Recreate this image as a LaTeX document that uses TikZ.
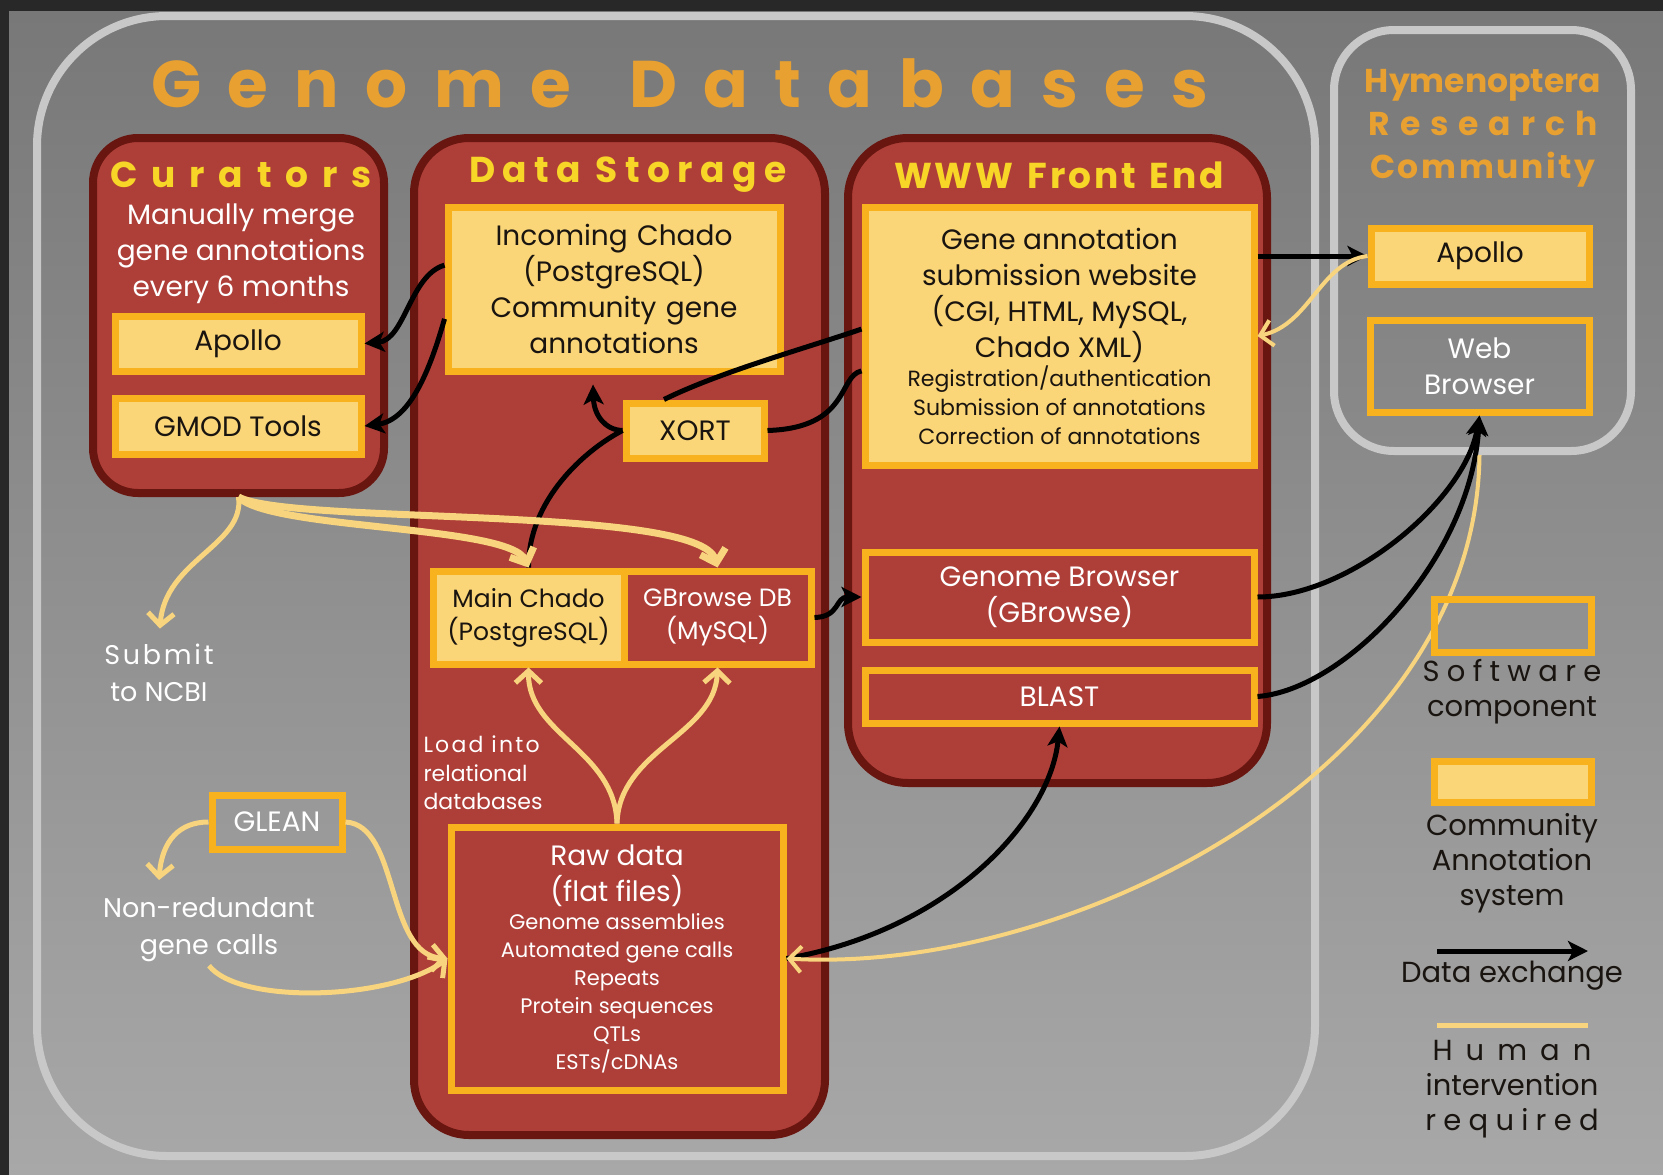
\documentclass[tikz,border=0pt]{standalone}
\usepackage{fontspec}
\setmainfont{Poppins}
\usetikzlibrary{arrows.meta,positioning,calc}
\definecolor{framedark}{RGB}{40,40,40}
\definecolor{bgtop}{RGB}{120,120,120}
\definecolor{bgbot}{RGB}{168,168,168}
\definecolor{rimgray}{RGB}{200,200,200}
\definecolor{panelred}{RGB}{174,62,56}
\definecolor{paneledge}{RGB}{105,22,16}
\definecolor{amber}{RGB}{247,178,30}
\definecolor{cream}{RGB}{250,214,120}
\definecolor{titleorange}{RGB}{232,160,48}
\definecolor{headyellow}{RGB}{248,214,40}
\definecolor{humanyellow}{RGB}{247,212,125}
\definecolor{ink}{RGB}{25,20,15}
\newcommand\natspace{\spaceskip=\fontdimen2\font\relax}
\tikzset{
  rim/.style={draw=rimgray, line width=8pt},
  panel/.style={draw=paneledge, fill=panelred, line width=8pt},
  combox/.style={draw=amber, fill=cream, line width=7pt, align=center, text=ink, inner sep=0pt},
  softbox/.style={draw=amber, fill=panelred, line width=7pt, align=center, text=white, inner sep=0pt},
  openbox/.style={draw=amber, line width=7pt, align=center, text=white, inner sep=0pt},
  heading/.style={text=headyellow, font=\fontsize{36}{40}\selectfont\bfseries},
  bodytxt/.style={font=\fontsize{28}{36}\selectfont},
  legtxt/.style={text=ink, align=center, font=\fontsize{29}{35}\selectfont},
  graytxt/.style={text=white, align=center, font=\fontsize{27}{37}\selectfont},
  dataflow/.style={-{Stealth[length=20pt,width=20pt,inset=5pt]}, line width=5pt, draw=black},
  humanflow/.style={-{Straight Barb[length=12pt,width=26pt]}, line width=5pt, draw=humanyellow}
}

\begin{document}
\begin{tikzpicture}[x=1pt,y=-1pt]
% ---- background ----
\fill[framedark] (0,0) rectangle (1663,1175);
\shade[top color=bgtop, bottom color=bgbot] (9,11) rectangle (1663,1175);
\useasboundingbox (0,0) rectangle (1663,1175);

% ---- outlines and panels ----
\node[rim, rounded corners=130pt, minimum width=1278pt, minimum height=1140pt] (gdb) at (676,586) {};
\node[rim, rounded corners=60pt, minimum width=297pt, minimum height=421pt] (hrc) at (1482.5,240.5) {};
\node[panel, rounded corners=45pt, minimum width=291pt, minimum height=355pt] (cur) at (238.5,315.5) {};
\node[panel, rounded corners=55pt, minimum width=411pt, minimum height=997pt] (store) at (619.5,636.5) {};
\node[panel, rounded corners=60pt, minimum width=419pt, minimum height=645pt] (www) at (1057.5,460.5) {};

% ---- headings ----
\node[text=titleorange, font=\fontsize{66}{70}\selectfont\bfseries] (title) at (680,83) {\addfontfeatures{LetterSpace=40}Genome\hspace{58pt}Databases};
\node[heading] (curhead) at (241,175) {\addfontfeatures{LetterSpace=38}Curators};
\node[heading] (storehead) at (628,175) {\addfontfeatures{LetterSpace=21}Data\hspace{14pt}Storage};
\node[heading] (wwwhead) at (1059,175) {\addfontfeatures{LetterSpace=8}WWW\hspace{14pt}Front\hspace{14pt}End};
\node[text=titleorange, align=center, font=\fontsize{33}{43}\selectfont\bfseries] (hym) at (1483,128) {Hymenoptera\\{\addfontfeatures{LetterSpace=30}Research}\\{\addfontfeatures{LetterSpace=8}Community}};
\node[text=white, align=center, bodytxt] (curtxt) at (241,254) {Manually merge\\gene annotations\\every 6 months};

% ---- components ----
\node[combox, minimum width=332pt, minimum height=164pt, text width=320pt, bodytxt] (incoming) at (614,289) {Incoming Chado\\(PostgreSQL)\\Community gene\\annotations};
\node[combox, minimum width=246pt, minimum height=55pt, bodytxt] (capollo) at (238,343.5) {Apollo};
\node[combox, minimum width=246pt, minimum height=56pt, bodytxt] (gmod) at (238,426) {GMOD Tools};
\node[combox, minimum width=138pt, minimum height=55pt, bodytxt] (xort) at (695,430.5) {XORT};
\node[combox, minimum width=389pt, minimum height=258pt, text width=380pt] (geneann) at (1059.5,336) {{\fontsize{28}{36}\selectfont\natspace Gene annotation\\submission website\\(CGI, HTML, MySQL,\\Chado XML)\par}{\fontsize{22}{29}\selectfont\natspace Registration/authentication\\Submission of annotations\\Correction of annotations\par}};
\node[combox, minimum width=191pt, minimum height=93pt, font=\fontsize{25}{33}\selectfont] (mainchado) at (528.5,617.5) {Main Chado\\(PostgreSQL)};
\node[softbox, minimum width=187pt, minimum height=93pt, font=\fontsize{25}{33}\selectfont] (gbrowsedb) at (717.5,617.5) {GBrowse DB\\(MySQL)};
\node[softbox, minimum width=389pt, minimum height=90pt, bodytxt] (gbrowse) at (1059.5,597) {Genome Browser\\(GBrowse)};
\node[softbox, minimum width=389pt, minimum height=53pt, bodytxt] (blast) at (1059.5,696.5) {BLAST};
\node[softbox, minimum width=332pt, minimum height=263pt, text width=320pt] (rawdata) at (617,958.5) {{\fontsize{28}{36}\selectfont\natspace Raw data\\(flat files)\par}{\fontsize{21}{28}\selectfont\natspace Genome assemblies\\Automated gene calls\\Repeats\\Protein sequences\\QTLs\\ESTs/cDNAs\par}};
\node[openbox, minimum width=130pt, minimum height=54pt, bodytxt] (glean) at (277,822) {GLEAN};
\node[combox, minimum width=218pt, minimum height=56pt, bodytxt] (hapollo) at (1480,256) {Apollo};
\node[openbox, minimum width=219pt, minimum height=92pt, bodytxt] (webbrowser) at (1479.5,366) {Web\\Browser};

% ---- free texts ----
\node[graytxt] (ncbi) at (159,673) {{\addfontfeatures{LetterSpace=10}Submit}\\to NCBI};
\node[graytxt] (nonred) at (209,930) {Non-redundant\\gene calls};
\node[text=white, align=left, anchor=west, font=\fontsize{22}{28.5}\selectfont] (loadtxt) at (420,773) {{\addfontfeatures{LetterSpace=10}Load\hspace{8pt}into}\\relational\\databases};
\coordinate (gleantip) at (159,880);

% ---- data exchange ----
\draw[dataflow] (incoming.172) .. controls (410,275) and (405,340) .. (capollo.east);
\draw[dataflow] (incoming.190) .. controls (430,370) and (410,420) .. (gmod.east);
\draw[dataflow, -] (mainchado.north) .. controls (528,500) and (585,450) .. (xort.west);
\draw[dataflow, shorten >=10pt] (xort.west) .. controls (605,430) and (594,415) .. (incoming.256);
\draw[dataflow, -] (geneann.178) .. controls (800,350) and (720,372) .. (xort.135);
\draw[dataflow, -] (geneann.190) .. controls (838,376) and (850,428) .. (xort.east);
\draw[dataflow] (gbrowsedb.east) .. controls (840,617) and (835,597) .. (gbrowse.west);
\draw[dataflow] (gbrowse.east) .. controls (1350,597) and (1465,500) .. (webbrowser.south);
\draw[dataflow] (blast.east) .. controls (1345,690) and (1470,560) .. (webbrowser.south);
\draw[dataflow] (rawdata.east) .. controls (950,930) and (1050,820) .. (blast.south);
\draw[dataflow] (geneann.east |- hapollo.west) -- (hapollo.west);

% ---- human intervention ----
\draw[humanflow, line width=4pt] (hapollo.west) .. controls (1320,262) and (1310,325) .. (geneann.east);
\draw[humanflow, line width=4pt] (hrc.south -| webbrowser.south) .. controls (1476,770) and (1070,975) .. (rawdata.east);
\draw[humanflow, shorten >=12pt] (cur.south) .. controls (245,545) and (165,560) .. (ncbi.north);
\draw[humanflow, line width=7pt] (cur.south) .. controls (270,530) and (510,525) .. (mainchado.north);
\draw[humanflow, line width=7pt] (cur.south) .. controls (290,525) and (700,505) .. (gbrowsedb.north);
\draw[humanflow] (rawdata.north) .. controls (615,750) and (528,735) .. (mainchado.south);
\draw[humanflow] (rawdata.north) .. controls (619,750) and (715,735) .. (gbrowsedb.south);
\draw[humanflow] (glean.west) .. controls (180,822) and (162,840) .. (gleantip);
\draw[humanflow] (glean.east) .. controls (400,825) and (385,955) .. (rawdata.west);
\draw[humanflow] (nonred.south) .. controls (240,1005) and (390,1000) .. (rawdata.west);

% ---- legend ----
\node[openbox, minimum width=157pt, minimum height=53pt] (legsoft) at (1512.5,625.5) {};
\node[combox, minimum width=157pt, minimum height=41pt] (legcomm) at (1512.5,781.5) {};
\node[legtxt] (legsofttxt) at (1512,692) {{\addfontfeatures{LetterSpace=25}Software}\\component};
\node[legtxt] (legcommtxt) at (1512,863) {Community\\Annotation\\system};
\coordinate (dxa) at (1437,951);
\coordinate (dxb) at (1588,951);
\draw[dataflow] (dxa) -- (dxb);
\node[legtxt] (legdatatxt) at (1512,976) {Data exchange};
\coordinate (hia) at (1437,1025);
\coordinate (hib) at (1588,1025);
\draw[humanflow, -] (hia) -- (hib);
\node[legtxt] (leghumtxt) at (1512,1089) {{\addfontfeatures{LetterSpace=45}Human}\\intervention\\{\addfontfeatures{LetterSpace=25}required}};
\end{tikzpicture}
\end{document}
